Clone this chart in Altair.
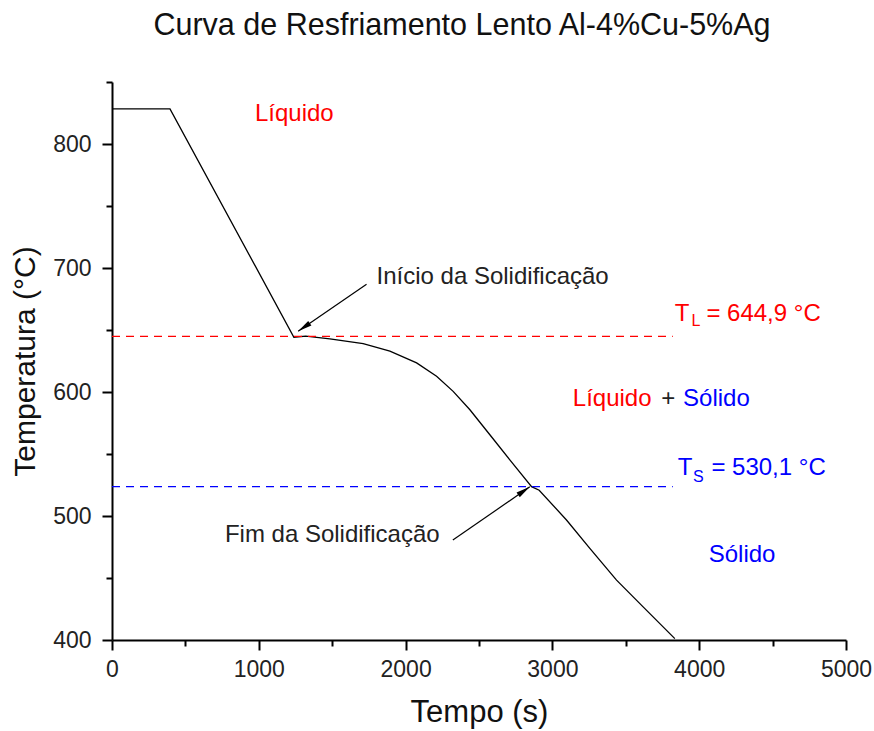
import math
import altair as alt
import pandas as pd

# ---- data ----
time_s = [0, 395, 1239, 1320, 1484, 1711, 1893, 2075, 2211, 2324, 2438, 2574, 2710, 2858, 2910, 3096, 3255, 3437, 3618, 3834]
temp_c = [828.3, 828.3, 644.2, 645.0, 642.9, 639.1, 632.9, 623.5, 612.7, 600.5, 585.7, 565.5, 545.3, 523.7, 520.8, 496.8, 473.9, 448.3, 426.7, 401.1]

ref_temps = [644.9, 523.7]          # dashed reference lines (as drawn)
ref_colors = ["#ff0000", "#0000ff"]
ref_end = [3820, 3820]

arrow_start_t = [1734, 2322]
arrow_start_T = [686.8, 480.6]
arrow_tip_t = [1268, 2846]
arrow_tip_T = [649.0, 523.5]

label_text = ["Líquido", "Início da Solidificação", "Fim da Solidificação",
              "T", "L", "= 644,9 °C",
              "T", "S", "= 530,1 °C",
              "Líquido", "+", "Sólido", "Sólido"]
label_t = [974, 1802, 769, 3834, 3947, 4049, 3854, 3958, 4083, 3139, 3742, 3890, 4065]
label_T = [818.8, 686.8, 479.2, 657.4, 653.1, 657.4, 533.2, 527.8, 533.2, 588.4, 588.4, 588.4, 463.1]
label_color = ["#ff0000", "#222222", "#222222",
               "#ff0000", "#ff0000", "#ff0000",
               "#0000ff", "#0000ff", "#0000ff",
               "#ff0000", "#222222", "#0000ff", "#0000ff"]
label_size = [24, 24, 24, 24, 16, 24, 24, 16, 24, 24, 24, 24, 24]

x_major_ticks = list(range(0, 5001, 1000))
x_minor_ticks = list(range(500, 5000, 1000))
y_major_ticks = list(range(400, 801, 100))
y_minor_ticks = list(range(450, 851, 100))

# ---- layout ----
W, H = 734, 558
X_DOM = [0, 5000]
Y_DOM = [400, 850]
FONT = "Liberation Sans"

xs = alt.Scale(domain=X_DOM, nice=False, zero=False)
ys = alt.Scale(domain=Y_DOM, nice=False, zero=False)

curve_df = pd.DataFrame({"t": time_s, "T": temp_c})
ref_df = pd.DataFrame({"T": ref_temps, "c": ref_colors, "t0": [0, 0], "t1": ref_end})

px_t = W / (X_DOM[1] - X_DOM[0])
px_T = H / (Y_DOM[1] - Y_DOM[0])
angles = []
for a0, b0, a1, b1 in zip(arrow_start_t, arrow_start_T, arrow_tip_t, arrow_tip_T):
    dx = (a1 - a0) * px_t
    dy = -(b1 - b0) * px_T
    angles.append(math.degrees(math.atan2(dx, -dy)) % 360)
arrow_df = pd.DataFrame({"t0": arrow_start_t, "T0": arrow_start_T,
                         "t1": arrow_tip_t, "T1": arrow_tip_T, "ang": angles})
label_df = pd.DataFrame({"txt": label_text, "t": label_t, "T": label_T,
                         "c": label_color, "s": label_size})

common_axis = dict(tickWidth=2, tickColor="black", domainColor="black", domainWidth=2,
                   grid=False, labelOverlap=False, labelFlush=False)

x_axis = alt.Axis(
    values=x_major_ticks, format="d", tickSize=10, orient="bottom",
    labelFont=FONT, labelFontSize=23, labelColor="#222222", labelPadding=8,
    title="Tempo (s)", titleFont=FONT, titleFontSize=31, titleFontWeight="normal",
    titleColor="#111111", titlePadding=16, **common_axis,
)
y_axis = alt.Axis(
    values=y_major_ticks, format="d", tickSize=10, orient="left",
    labelFont=FONT, labelFontSize=23, labelColor="#222222", labelPadding=11,
    title="Temperatura (°C)", titleFont=FONT, titleFontSize=30, titleFontWeight="normal",
    titleColor="#111111", titlePadding=12, **common_axis,
)
x_axis_minor = alt.Axis(values=x_minor_ticks, tickSize=6, labels=False, domain=False,
                        title=None, orient="bottom", tickWidth=2, tickColor="black", grid=False)
y_axis_minor = alt.Axis(values=y_minor_ticks, tickSize=6, labels=False, domain=False,
                        title=None, orient="left", tickWidth=2, tickColor="black", grid=False)

curve = alt.Chart(curve_df).mark_line(color="black", strokeWidth=1.3).encode(
    x=alt.X("t:Q", scale=xs, axis=x_axis),
    y=alt.Y("T:Q", scale=ys, axis=y_axis),
)

refs = alt.Chart(ref_df).mark_rule(strokeWidth=1.3, strokeDash=[8, 6]).encode(
    x=alt.X("t0:Q", scale=xs, axis=x_axis_minor),
    x2="t1:Q",
    y=alt.Y("T:Q", scale=ys, axis=y_axis_minor),
    color=alt.Color("c:N", scale=None),
)

arrow_lines = alt.Chart(arrow_df).mark_rule(color="black", strokeWidth=1.2).encode(
    x=alt.X("t0:Q", scale=xs, axis=None), x2="t1:Q",
    y=alt.Y("T0:Q", scale=ys, axis=None), y2="T1:Q",
)
arrow_heads = alt.Chart(arrow_df).mark_point(
    shape="M0,0L0.4,2L-0.4,2Z", filled=True, color="black", opacity=1, size=200, strokeWidth=0
).encode(
    x=alt.X("t1:Q", scale=xs, axis=None),
    y=alt.Y("T1:Q", scale=ys, axis=None),
    angle=alt.Angle("ang:Q", scale=None),
)

labels = alt.Chart(label_df).mark_text(
    align="left", baseline="alphabetic", font=FONT
).encode(
    x=alt.X("t:Q", scale=xs, axis=None),
    y=alt.Y("T:Q", scale=ys, axis=None),
    text="txt:N",
    color=alt.Color("c:N", scale=None),
    size=alt.Size("s:Q", scale=None),
)

chart = alt.layer(curve, refs, arrow_lines, arrow_heads, labels).resolve_axis(
    x="independent", y="independent"
).properties(
    width=W, height=H,
    title=alt.TitleParams(
        text="Curva de Resfriamento Lento Al-4%Cu-5%Ag",
        font=FONT, fontSize=30.5, fontWeight="normal", color="#111111",
        anchor="middle", dx=-17, offset=40,
    ),
    autosize=alt.AutoSizeParams(type="none"),
    padding={"left": 112, "top": 82, "right": 28, "bottom": 91},
).configure(background="white").configure_view(stroke=None)

chart.save("out.html", embed_options={"renderer": "svg", "actions": False})
